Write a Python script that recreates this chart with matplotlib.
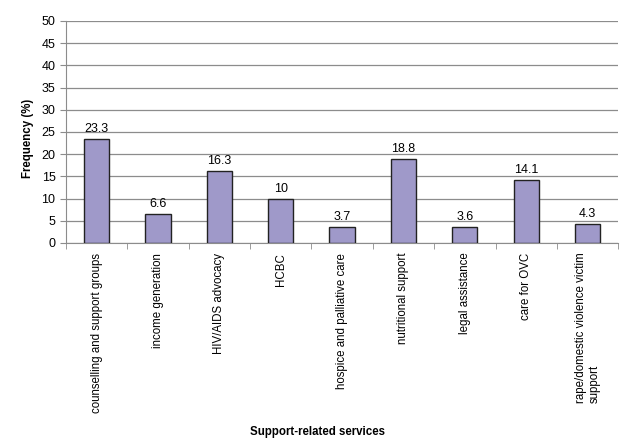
import numpy as np
import matplotlib
matplotlib.use("Agg")
import matplotlib.pyplot as plt

categories = [
    "counselling and support groups",
    "income generation",
    "HIV/AIDS advocacy",
    "HCBC",
    "hospice and palliative care",
    "nutritional support",
    "legal assistance",
    "care for OVC",
    "rape/domestic violence victim\nsupport",
]
values = [23.3, 6.6, 16.3, 10, 3.7, 18.8, 3.6, 14.1, 4.3]
labels = ["23.3", "6.6", "16.3", "10", "3.7", "18.8", "3.6", "14.1", "4.3"]

plt.rcParams["font.family"] = ["Liberation Sans", "DejaVu Sans"]

fig = plt.figure(figsize=(6.4, 4.45), dpi=100)
ax = fig.add_axes([0.103, 0.454, 0.863, 0.499])

x = np.arange(len(categories))
bars = ax.bar(x, values, width=0.41, color="#9f99c9", edgecolor="#222222",
              linewidth=1.0, zorder=3)
for b, lab in zip(bars, labels):
    ax.text(b.get_x() + b.get_width() / 2, b.get_height() + 0.9, lab,
            ha="center", va="bottom", fontsize=9)

ax.set_xlim(-0.5, len(categories) - 0.5)
ax.set_ylim(0, 50)
ax.set_yticks(np.arange(0, 51, 5))
ax.yaxis.grid(True, color="#8c8c8c", linewidth=0.9, zorder=0)
ax.set_axisbelow(True)

ax.set_xticks(x)
ax.set_xticklabels(categories, rotation=90, fontsize=8.3, va="top",
                   ha="center", multialignment="left")
ax.tick_params(axis="x", length=0, pad=7)
ax.set_xticks(np.arange(-0.5, len(categories), 1), minor=True)
ax.tick_params(axis="x", which="minor", length=4, color="#8c8c8c")
ax.tick_params(axis="y", labelsize=9, length=4, color="#8c8c8c")

for s in ["top", "right"]:
    ax.spines[s].set_visible(False)
for s in ["left", "bottom"]:
    ax.spines[s].set_color("#8c8c8c")

ax.set_ylabel("Frequency (%)", fontsize=8.3, fontweight="bold")
ax.yaxis.set_label_coords(-0.057, 0.473)
ax.set_xlabel("Support-related services", fontsize=8.3, fontweight="bold")
ax.xaxis.set_label_coords(0.456, -0.824)

fig.savefig("out.png", dpi=100)
